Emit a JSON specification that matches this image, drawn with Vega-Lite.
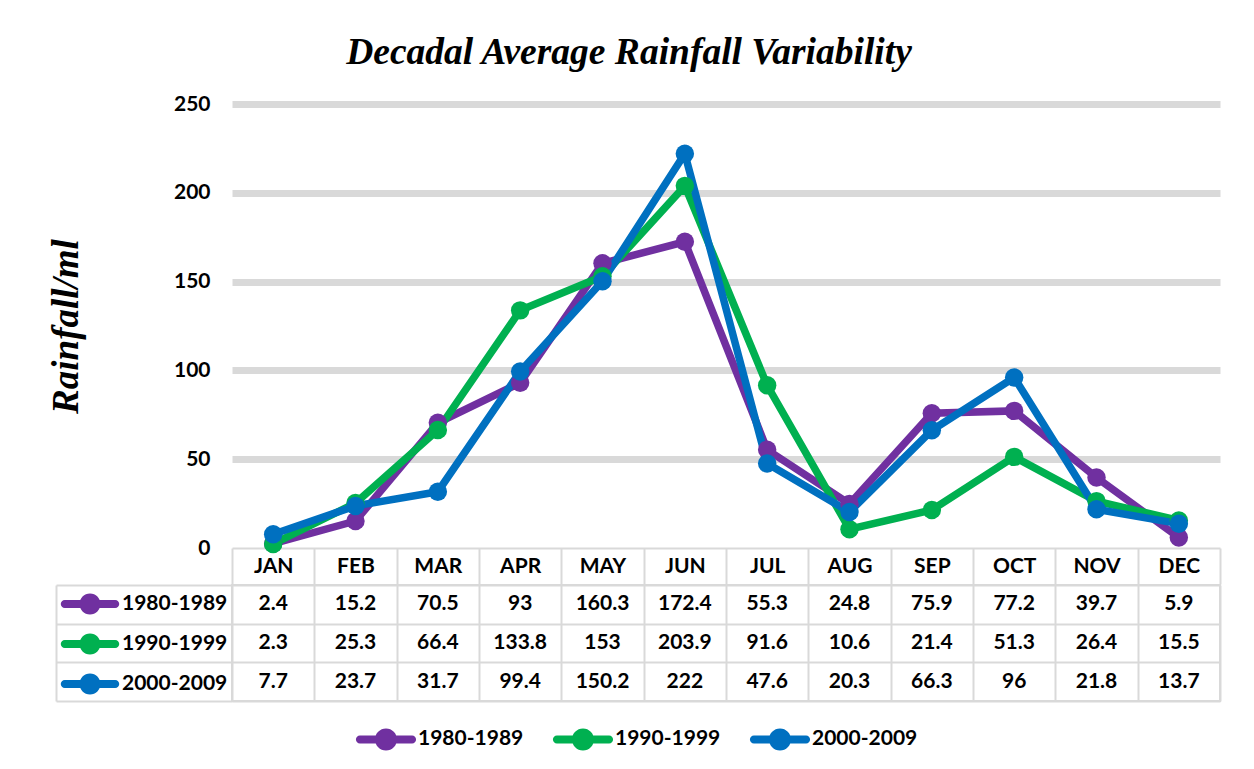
{
  "$schema": "https://vega.github.io/schema/vega-lite/v6.json",
  "background": "white",
  "padding": {"left": 46, "top": 33, "right": 20, "bottom": 5},
  "title": {"text": "Decadal Average Rainfall Variability", "font": "Liberation Serif", "fontSize": 37.5, "fontStyle": "italic", "fontWeight": "bold", "color": "#000", "anchor": "middle", "offset": 22, "dx": -5},
  "config": {"view": {"stroke": null}, "font": "Lato"},
  "data": {"values": [
    {"month": "JAN", "decade": "1980-1989", "rainfall": 2.4},
    {"month": "FEB", "decade": "1980-1989", "rainfall": 15.2},
    {"month": "MAR", "decade": "1980-1989", "rainfall": 70.5},
    {"month": "APR", "decade": "1980-1989", "rainfall": 93},
    {"month": "MAY", "decade": "1980-1989", "rainfall": 160.3},
    {"month": "JUN", "decade": "1980-1989", "rainfall": 172.4},
    {"month": "JUL", "decade": "1980-1989", "rainfall": 55.3},
    {"month": "AUG", "decade": "1980-1989", "rainfall": 24.8},
    {"month": "SEP", "decade": "1980-1989", "rainfall": 75.9},
    {"month": "OCT", "decade": "1980-1989", "rainfall": 77.2},
    {"month": "NOV", "decade": "1980-1989", "rainfall": 39.7},
    {"month": "DEC", "decade": "1980-1989", "rainfall": 5.9},
    {"month": "JAN", "decade": "1990-1999", "rainfall": 2.3},
    {"month": "FEB", "decade": "1990-1999", "rainfall": 25.3},
    {"month": "MAR", "decade": "1990-1999", "rainfall": 66.4},
    {"month": "APR", "decade": "1990-1999", "rainfall": 133.8},
    {"month": "MAY", "decade": "1990-1999", "rainfall": 153},
    {"month": "JUN", "decade": "1990-1999", "rainfall": 203.9},
    {"month": "JUL", "decade": "1990-1999", "rainfall": 91.6},
    {"month": "AUG", "decade": "1990-1999", "rainfall": 10.6},
    {"month": "SEP", "decade": "1990-1999", "rainfall": 21.4},
    {"month": "OCT", "decade": "1990-1999", "rainfall": 51.3},
    {"month": "NOV", "decade": "1990-1999", "rainfall": 26.4},
    {"month": "DEC", "decade": "1990-1999", "rainfall": 15.5},
    {"month": "JAN", "decade": "2000-2009", "rainfall": 7.7},
    {"month": "FEB", "decade": "2000-2009", "rainfall": 23.7},
    {"month": "MAR", "decade": "2000-2009", "rainfall": 31.7},
    {"month": "APR", "decade": "2000-2009", "rainfall": 99.4},
    {"month": "MAY", "decade": "2000-2009", "rainfall": 150.2},
    {"month": "JUN", "decade": "2000-2009", "rainfall": 222},
    {"month": "JUL", "decade": "2000-2009", "rainfall": 47.6},
    {"month": "AUG", "decade": "2000-2009", "rainfall": 20.3},
    {"month": "SEP", "decade": "2000-2009", "rainfall": 66.3},
    {"month": "OCT", "decade": "2000-2009", "rainfall": 96},
    {"month": "NOV", "decade": "2000-2009", "rainfall": 21.8},
    {"month": "DEC", "decade": "2000-2009", "rainfall": 13.7}
  ]},
  "bounds": "flush",
  "spacing": 37,
  "resolve": {"legend": {"color": "independent"}},
  "vconcat": [
    {
      "width": 988,
      "height": 444,
      "encoding": {
        "x": {
          "field": "month", "type": "nominal", "bandPosition": 0.5,
          "scale": {"type": "band", "domain": ["JAN","FEB","MAR","APR","MAY","JUN","JUL","AUG","SEP","OCT","NOV","DEC"], "paddingInner": 0, "paddingOuter": 0},
          "axis": {"orient": "bottom", "title": null, "labelAngle": 0, "labelFont": "Lato", "labelFontSize": 21, "labelFontWeight": "bold", "labelColor": "#000", "labelBaseline": "middle", "labelPadding": -18, "tickBand": "extent", "tickSize": 36, "tickColor": "#d9d9d9", "tickWidth": 2, "domainColor": "#d9d9d9", "domainWidth": 2, "grid": false}
        },
        "y": {
          "field": "rainfall", "type": "quantitative",
          "scale": {"domain": [0, 250], "nice": false},
          "axis": {"values": [0, 50, 100, 150, 200, 250], "title": "Rainfall/ml", "titleFont": "Liberation Serif", "titleFontSize": 37, "titleFontStyle": "italic", "titleFontWeight": "bold", "titleColor": "#000", "titleX": -166, "titleY": 222, "titleAngle": -90, "titleAlign": "center", "titleBaseline": "middle", "labelFont": "Lato", "labelFontSize": 21, "labelFontWeight": "bold", "labelColor": "#000", "labelPadding": 22, "ticks": false, "domain": false, "grid": true, "gridColor": {"condition": {"test": "datum.value === 0", "value": "rgba(0,0,0,0)"}, "value": "#d9d9d9"}, "gridWidth": 7}
        },
        "color": {"field": "decade", "type": "nominal", "scale": {"domain": ["1980-1989", "1990-1999", "2000-2009"], "range": ["#7030a0", "#00b050", "#0070c0"]},
          "legend": {"orient": "none", "legendX": 124, "legendY": 605, "direction": "horizontal", "columns": 3, "title": null, "symbolType": "M-0.87,-0.133H0.87A0.133,0.133 0 0,1 0.87,0.133H-0.87A0.133,0.133 0 0,1 -0.87,-0.133Z M-0.367,0A0.367,0.367 0 1,1 0.367,0A0.367,0.367 0 1,1 -0.367,0Z", "symbolSize": 3600, "symbolStrokeWidth": 0, "symbolOpacity": 1, "symbolFillColor": null, "labelFont": "Lato", "labelFontSize": 21, "labelFontWeight": "bold", "labelColor": "#000", "labelOffset": 2, "columnPadding": 28, "padding": 0}}
      },
      "layer": [
        {
          "mark": {"type": "line", "strokeWidth": 7.5}
        },
        {
          "mark": {"type": "point", "filled": true, "size": 340, "opacity": 1}
        }
      ]
    },
    {
      "width": 988,
      "height": 116,
      "view": {"stroke": "#d9d9d9", "strokeWidth": 2},
      "encoding": {
        "x": {
          "field": "month", "type": "nominal",
          "scale": {"type": "band", "domain": ["JAN","FEB","MAR","APR","MAY","JUN","JUL","AUG","SEP","OCT","NOV","DEC"], "paddingInner": 0, "paddingOuter": 0},
          "axis": {"orient": "top", "title": null, "labels": false, "ticks": false, "domain": false, "grid": true, "tickBand": "extent", "gridColor": "#d9d9d9", "gridWidth": 2}
        },
        "y": {
          "field": "decade", "type": "nominal",
          "scale": {"type": "band", "domain": ["1980-1989", "1990-1999", "2000-2009"], "paddingInner": 0, "paddingOuter": 0},
          "axis": {"title": null, "labels": false, "offset": 176, "domain": true, "domainColor": "#d9d9d9", "domainWidth": 2, "ticks": true, "tickSize": -176, "tickBand": "extent", "tickColor": "#d9d9d9", "tickWidth": 2, "grid": true, "gridColor": "#d9d9d9", "gridWidth": 2}
        }
      },
      "layer": [
        {
          "mark": {"type": "text", "font": "Lato", "fontSize": 21, "fontWeight": "bold", "color": "#000"},
          "encoding": {"text": {"field": "rainfall", "type": "quantitative"}}
        },
        {
          "mark": {"type": "point", "filled": true, "opacity": 0},
          "encoding": {
            "x": {"field": "month", "type": "nominal"},
            "color": {"field": "decade", "type": "nominal", "scale": {"domain": ["1980-1989", "1990-1999", "2000-2009"], "range": ["#7030a0", "#00b050", "#0070c0"]},
              "legend": {"orient": "none", "legendX": -171, "legendY": -10, "direction": "vertical", "title": null, "symbolType": "M-0.87,-0.138H0.87A0.138,0.138 0 0,1 0.87,0.138H-0.87A0.138,0.138 0 0,1 -0.87,-0.138Z M-0.362,0A0.362,0.362 0 1,1 0.362,0A0.362,0.362 0 1,1 -0.362,0Z", "symbolSize": 3364, "symbolStrokeWidth": 0, "symbolOpacity": 1, "labelFont": "Lato", "labelFontSize": 21, "labelFontWeight": "bold", "labelColor": "#000", "labelOffset": 3, "rowPadding": 0, "padding": 0}}
          }
        }
      ]
    }
  ]
}
